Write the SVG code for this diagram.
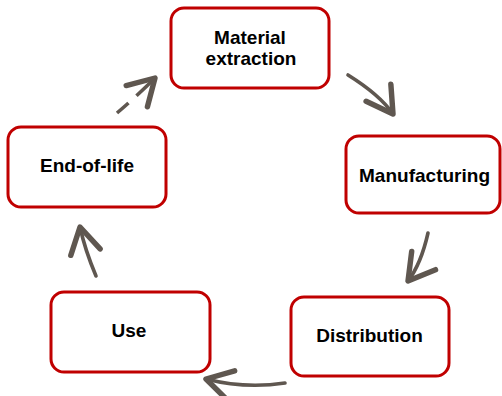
<svg xmlns="http://www.w3.org/2000/svg" width="502" height="396" viewBox="0 0 502 396">
<style>
.box{fill:#fff;stroke:#c00000;stroke-width:3}
.lbl{font-family:"Liberation Sans",Arial,sans-serif;font-weight:bold;font-size:19px;fill:#000;text-anchor:middle}
.arr{fill:none;stroke:#5f5750;stroke-width:3.6;stroke-linecap:round}
.dash{stroke-dasharray:15 11 60;stroke-linecap:butt}
</style>
<defs>
<marker id="ah" markerUnits="userSpaceOnUse" markerWidth="40" markerHeight="40" viewBox="-22 -14 26 28" refX="0" refY="0" orient="auto" overflow="visible">
<path d="M-18,-10.5 L0,0 L-18,10.5" fill="none" stroke="#5f5750" stroke-width="3.8" stroke-linecap="round" stroke-linejoin="round" stroke-dasharray="none"/>
</marker>
</defs>
<rect width="502" height="396" fill="#fff"/>
<g id="connectors">
<path class="arr" d="M348,75 Q380,95 393,114" marker-end="url(#ah)"/>
<path class="arr" d="M428,233 Q421,264 408,281" marker-end="url(#ah)"/>
<path class="arr" d="M285,383 Q245,389 206,379" marker-end="url(#ah)"/>
<path class="arr" d="M96,276 Q85,250 80,227" marker-end="url(#ah)"/>
<path class="arr dash" d="M117,113 Q138,95 155,78" marker-end="url(#ah)"/>
</g>
<g id="material-extraction">
<rect class="box" x="171" y="8" width="158" height="80" rx="13"/>
<text class="lbl" x="250" y="44">Material</text>
<text class="lbl" x="251" y="65">extraction</text>
</g>
<g id="manufacturing">
<rect class="box" x="346" y="136" width="154" height="77" rx="13"/>
<text class="lbl" x="424.5" y="181.5" textLength="131" lengthAdjust="spacingAndGlyphs">Manufacturing</text>
</g>
<g id="distribution">
<rect class="box" x="291" y="297" width="158" height="79" rx="13"/>
<text class="lbl" x="369.5" y="341.5">Distribution</text>
</g>
<g id="use">
<rect class="box" x="51" y="292" width="159" height="80" rx="13"/>
<text class="lbl" x="129" y="337">Use</text>
</g>
<g id="end-of-life">
<rect class="box" x="8" y="127" width="158" height="80" rx="13"/>
<text class="lbl" x="87" y="172">End-of-life</text>
</g>
</svg>
